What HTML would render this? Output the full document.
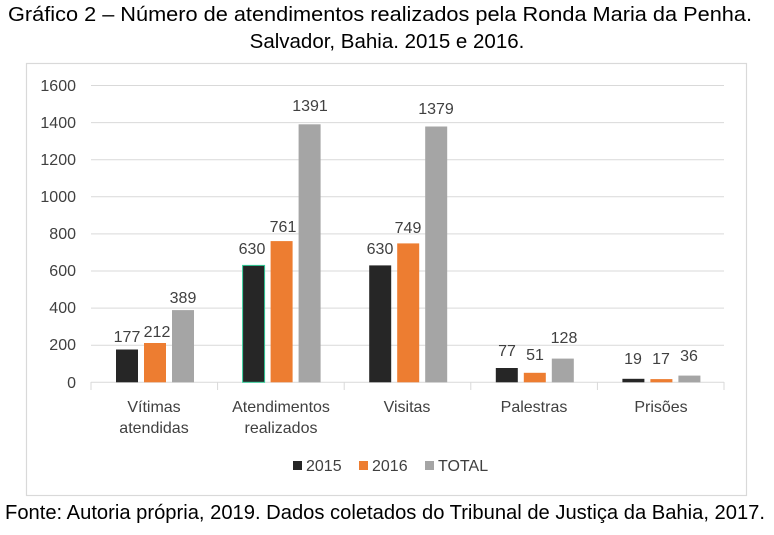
<!DOCTYPE html>
<html><head><meta charset="utf-8"><style>
body{margin:0;background:#fff;width:774px;height:530px;overflow:hidden}
svg text{font-family:"Liberation Sans",sans-serif}
</style></head><body>
<svg width="774" height="530" xmlns="http://www.w3.org/2000/svg">
<text x="8" y="21" font-size="20.5" textLength="744" lengthAdjust="spacingAndGlyphs" fill="#000">Gráfico 2 – Número de atendimentos realizados pela Ronda Maria da Penha.</text>
<text x="387" y="48" font-size="20.5" text-anchor="middle" fill="#000">Salvador, Bahia. 2015 e 2016.</text>
<rect x="26.5" y="63.5" width="720" height="432" fill="#fff" stroke="#d9d9d9" stroke-width="1.2"/>
<g stroke="#d9d9d9" stroke-width="1">
<line x1="91" x2="724" y1="85.5" y2="85.5"/><line x1="91" x2="724" y1="122.6" y2="122.6"/>
<line x1="91" x2="724" y1="159.7" y2="159.7"/><line x1="91" x2="724" y1="196.8" y2="196.8"/>
<line x1="91" x2="724" y1="233.9" y2="233.9"/><line x1="91" x2="724" y1="271" y2="271"/>
<line x1="91" x2="724" y1="308.1" y2="308.1"/><line x1="91" x2="724" y1="345.2" y2="345.2"/>
<line x1="91" x2="724" y1="382.3" y2="382.3"/>
<line x1="91" x2="91" y1="382" y2="390"/><line x1="217.6" x2="217.6" y1="382" y2="390"/>
<line x1="344.2" x2="344.2" y1="382" y2="390"/><line x1="470.8" x2="470.8" y1="382" y2="390"/>
<line x1="597.4" x2="597.4" y1="382" y2="390"/><line x1="724" x2="724" y1="382" y2="390"/>
</g>
<g font-size="16" fill="#404040" text-anchor="end">
<text x="76" y="91">1600</text><text x="76" y="128">1400</text><text x="76" y="165">1200</text>
<text x="76" y="202">1000</text><text x="76" y="239">800</text><text x="76" y="276">600</text>
<text x="76" y="313">400</text><text x="76" y="350">200</text><text x="76" y="388">0</text>
</g>
<g>
<rect x="116" y="349.5" width="22" height="32.8" fill="#262626"/>
<rect x="144" y="343" width="22" height="39.3" fill="#ed7d31"/>
<rect x="172" y="310.1" width="22" height="72.2" fill="#a5a5a5"/>
<rect x="242.6" y="265.4" width="22" height="116.9" fill="#262626" stroke="#3c9" stroke-width="1"/>
<rect x="270.6" y="241.1" width="22" height="141.2" fill="#ed7d31"/>
<rect x="298.6" y="124.3" width="22" height="258" fill="#a5a5a5"/>
<rect x="369.2" y="265.4" width="22" height="116.9" fill="#262626"/>
<rect x="397.2" y="243.4" width="22" height="138.9" fill="#ed7d31"/>
<rect x="425.2" y="126.5" width="22" height="255.8" fill="#a5a5a5"/>
<rect x="495.8" y="368" width="22" height="14.3" fill="#262626"/>
<rect x="523.8" y="372.8" width="22" height="9.5" fill="#ed7d31"/>
<rect x="551.8" y="358.6" width="22" height="23.7" fill="#a5a5a5"/>
<rect x="622.4" y="378.8" width="22" height="3.5" fill="#262626"/>
<rect x="650.4" y="379.1" width="22" height="3.2" fill="#ed7d31"/>
<rect x="678.4" y="375.6" width="22" height="6.7" fill="#a5a5a5"/>
</g>
<g font-size="16" fill="#404040" text-anchor="middle">
<text x="127" y="342">177</text><text x="157" y="337">212</text><text x="183" y="303">389</text>
<text x="252" y="254">630</text><text x="283" y="232">761</text><text x="310" y="111">1391</text>
<text x="380" y="254">630</text><text x="408" y="233">749</text><text x="436" y="114">1379</text>
<text x="507" y="356">77</text><text x="535" y="360">51</text><text x="564" y="343">128</text>
<text x="633" y="364">19</text><text x="661" y="364">17</text><text x="689" y="361">36</text>
<text x="154" y="412">Vítimas</text><text x="154" y="433">atendidas</text>
<text x="281" y="412">Atendimentos</text><text x="281" y="433">realizados</text>
<text x="407" y="412">Visitas</text><text x="534" y="412">Palestras</text><text x="661" y="412">Prisões</text>
</g>
<g font-size="16" fill="#404040">
<rect x="293" y="461" width="9" height="9" fill="#262626"/><text x="306" y="471">2015</text>
<rect x="359" y="461" width="9" height="9" fill="#ed7d31"/><text x="372" y="471">2016</text>
<rect x="425" y="461" width="9" height="9" fill="#a5a5a5"/><text x="438" y="471">TOTAL</text>
</g>
<text x="5" y="519" font-size="20" textLength="760" lengthAdjust="spacingAndGlyphs" fill="#000">Fonte: Autoria própria, 2019. Dados coletados do Tribunal de Justiça da Bahia, 2017.</text>
</svg>
</body></html>
